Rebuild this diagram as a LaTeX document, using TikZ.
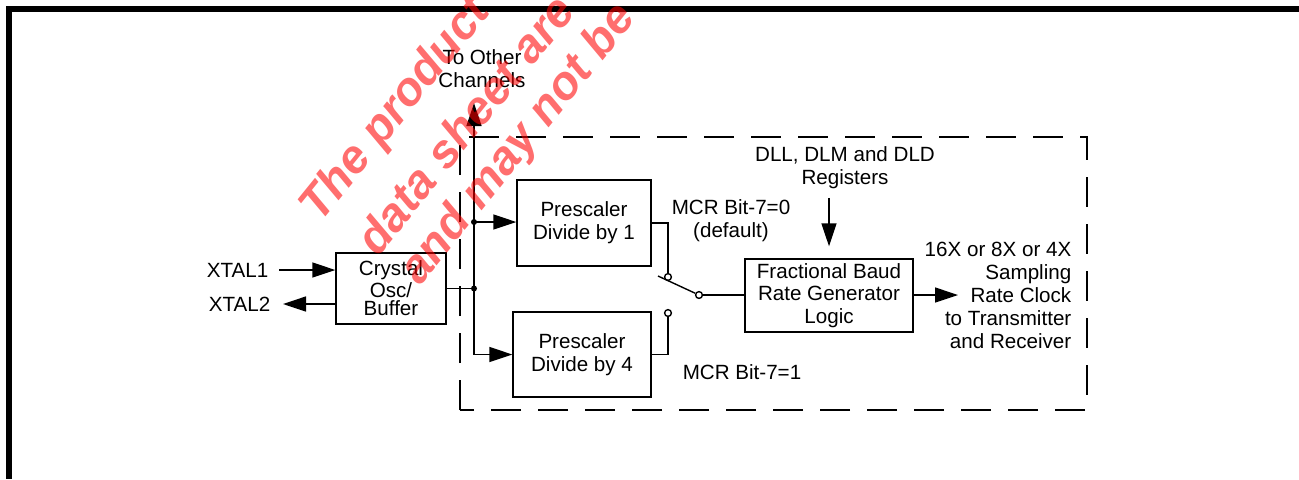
\documentclass[tikz,border=0pt]{standalone}
\usepackage{fontspec}
\setmainfont{Liberation Sans}
\usetikzlibrary{arrows.meta}

\begin{document}
\begin{tikzpicture}[x=0.5pt, y=-0.5pt, >={Triangle[length=11.5pt, width=7.5pt]},
  font=\fontsize{10.3}{11.6}\selectfont, line width=0.7pt,
  box/.style={draw, align=center, inner sep=0pt},
  lbl/.style={align=center, inner sep=1pt},
  dot/.style={circle, fill, inner sep=0pt, minimum size=3pt},
  contact/.style={circle, draw, fill=white, inner sep=0pt, minimum size=3.4pt},
  wmark/.style={anchor=base west, rotate=51, inner sep=0pt, text=red, text opacity=0.57,
    font=\fontsize{23.5}{23.5}\selectfont\bfseries\itshape}]
  \useasboundingbox (0,0) rectangle (1299,479);
  % --- page frame ---
  \draw[line width=3pt] (1299,9) -- (9,9) -- (9,479);
  % --- channel boundary (dashed) ---
  \draw[dash pattern=on 15pt off 8.5pt] (460,410) -- (460,137) -- (1087,137) -- (1087,410) -- cycle;
  % --- blocks ---
  \node[box, minimum width=55pt, minimum height=35.5pt, font=\fontsize{10.3}{9.3}\selectfont]
       (osc) at (391,288.5) {Crystal\\Osc/\\Buffer};
  \node[box, minimum width=67pt, minimum height=43pt] (pre1) at (584,223) {Prescaler\\Divide by 1};
  \node[box, minimum width=69pt, minimum height=42.5pt] (pre4) at (582,354.5) {Prescaler\\Divide by 4};
  \node[box, minimum width=84pt, minimum height=36.5pt, font=\fontsize{10.3}{11.2}\selectfont]
       (frbg) at (829,295.5) {Fractional Baud\\Rate Generator\\Logic};
  % --- crystal pins ---
  \node[lbl, anchor=east] (xtal1) at (271,270) {XTAL1};
  \node[lbl, anchor=east] (xtal2) at (273,304) {XTAL2};
  \draw[->, shorten <=4pt] (xtal1.east) -- (osc.west |- xtal1.east);
  \draw[->, shorten >=5pt] (osc.west |- xtal2.east) -- (xtal2.east);
  % --- clock bus ---
  \coordinate (jin) at (474,288.5);
  \coordinate (j1) at (474,222);
  \coordinate (jbot) at (474,354.5);
  \coordinate (chan) at (474,103);
  \node[lbl] (other) at (482,68.5) {To Other\\Channels};
  \draw (osc.east) -- (jin);
  \draw[->] (jbot) -- (chan);
  \draw[->] (j1) -- (pre1.west |- j1);
  \draw[->] (jbot) -- (pre4.west);
  \node[dot] (d1) at (j1) {};
  \node[dot] (d2) at (jin) {};
  % --- prescaler select switch ---
  \node[contact] (c0) at (668,277) {};
  \node[contact] (c1) at (668,313) {};
  \node[contact] (cc) at (699,295) {};
  \coordinate (blade) at (658,276);
  \draw (pre1.east) -| (c0);
  \draw (pre4.east) -| (c1);
  \draw (blade) -- (cc);
  \draw (cc) -- (frbg.west |- cc);
  \node[lbl] (mcr0) at (731,221) {MCR Bit-7=0\\(default)};
  \node[lbl] (mcr1) at (742,372) {MCR Bit-7=1};
  % --- divisor registers ---
  \node[lbl] (regs) at (845,168) {DLL, DLM and DLD\\Registers};
  \draw[->, shorten <=3pt, shorten >=6pt] (regs.south -| frbg.north) -- (frbg.north);
  % --- output ---
  \coordinate (clk) at (958,295);
  \node[lbl, align=right, anchor=east, font=\fontsize{10.3}{11.5}\selectfont] (out) at (1074,295)
       {16X or 8X or 4X\\Sampling\\Rate Clock\\to Transmitter\\and Receiver};
  \draw[->] (frbg.east |- clk) -- (clk);
  % --- watermark ---
  \begin{scope}
    \clip (0,0) rectangle (1299,479);
    \node[wmark] (wm1) at (320,224) {The product};
    \node[wmark] (wm2) at (378,258) {data sheet are};
    \node[wmark] (wm3) at (420,287) {and may not be};
  \end{scope}
\end{tikzpicture}
\end{document}
